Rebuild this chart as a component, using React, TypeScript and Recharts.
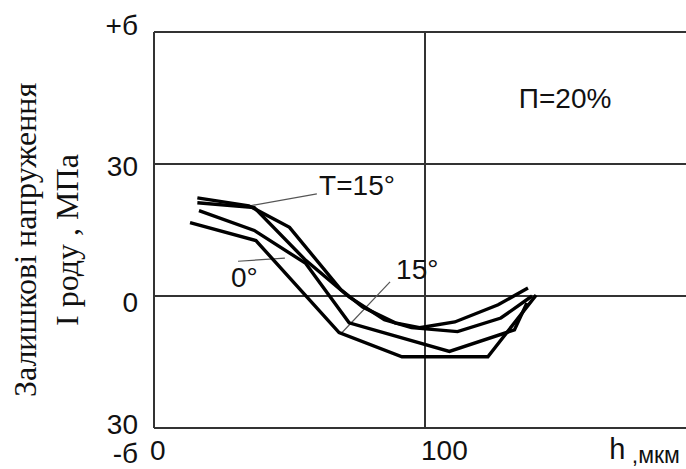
import { LineChart, Line, XAxis, YAxis, CartesianGrid, ReferenceLine, ReferenceDot } from "recharts"

// axis ticks
const depthTicks = [0, 100, 200]
const stressTicks = [-30, 0, 30, 60]
const stressTickText: Record<number, string[]> = { 60: ["+б"], 30: ["30"], 0: ["0"], [-30]: ["30", "-б"] }

// curves, h in мкм, stress in МПа
const hT15 = [16, 35, 50, 69, 77, 89, 98, 111, 127, 138]
const sT15 = [22.3, 20.5, 15.6, 1.4, -2.5, -6.1, -7.2, -5.9, -2.0, 1.8]

const hMid = [16, 37, 56, 72, 85, 95, 112, 128, 139.5]
const sMid = [21.2, 20.1, 8.1, -0.2, -5.4, -7.2, -8.1, -5.0, 0]

const h15 = [16.6, 37, 56, 72, 109, 133, 137.6]
const s15 = [19.4, 14.9, 7.4, -6.1, -12.6, -7.7, -1.6]

const h0 = [13.3, 37.6, 68.3, 91.5, 123.2, 141]
const s0 = [16.7, 12.6, -8.3, -13.8, -13.8, 0.2]

// annotations
const noteText = ["T=15°", "0°", "15°", "П=20%"]
const noteH = [61.3, 28.8, 89.7, 135]
const noteS = [22.8, 1.8, 3.6, 42.6]

const pointerFrom = [{ x: 60.1, y: 23.2 }, { x: 31, y: 7.9 }, { x: 87.1, y: 3.2 }]
const pointerTo = [{ x: 35.4, y: 20.5 }, { x: 48.3, y: 8.6 }, { x: 69.4, y: -8.3 }]

const toSeries = (h: number[], s: number[]) => h.map((v, i) => ({ h: v, s: s[i] }))
const curves = [toSeries(hT15, sT15), toSeries(hMid, sMid), toSeries(h15, s15), toSeries(h0, s0)]

const sans = "'Liberation Sans', Arial, sans-serif"
const serif = "'Liberation Serif', 'Times New Roman', serif"

const yShift: Record<number, number[]> = { 60: [3], 30: [12], 0: [16], [-30]: [6, 35] }

function StressTick({ x, y, payload }: any) {
  const v = payload.value
  const lines = stressTickText[v] || []
  return (
    <g>
      {lines.map((t, i) => (
        <text key={i} x={x} y={y + yShift[v][i]} textAnchor="end" fontFamily={sans} fontSize={28} fill="#111">
          {t}
        </text>
      ))}
    </g>
  )
}

function DepthTick({ x, y, payload }: any) {
  if (payload.value === 200) return null
  return (
    <text x={x - 4} y={y + 24} textAnchor="start" fontFamily={sans} fontSize={28} fill="#111">
      {payload.value}
    </text>
  )
}

function YTitle({ viewBox }: any) {
  const cy = viewBox.y + viewBox.height / 2 + 10
  return (
    <g>
      <text x={36} y={cy} transform={`rotate(-90, 36, ${cy})`} textAnchor="middle" fontFamily={serif} fontSize={32} fill="#111">
        Залишкові напруження
      </text>
      <text x={78} y={cy} transform={`rotate(-90, 78, ${cy})`} textAnchor="middle" fontFamily={serif} fontSize={32} fill="#111">
        І роду , МПа
      </text>
    </g>
  )
}

function XTitle({ viewBox }: any) {
  const x = viewBox.x + viewBox.width * 0.84
  return (
    <text x={x} y={459} fontFamily={sans} fill="#111">
      <tspan fontSize={29}>h</tspan>
      <tspan fontSize={23} dy={4}> ,мкм</tspan>
    </text>
  )
}

function Note({ viewBox, value }: any) {
  return (
    <text x={viewBox.x} y={viewBox.y} fontFamily={sans} fontSize={28} fill="#111">
      {value}
    </text>
  )
}

export default function App() {
  return (
    <div style={{ position: "absolute", left: 0, top: 0, width: 686, height: 469, overflow: "hidden", background: "#fff" }}>
      <LineChart width={720} height={469} margin={{ top: 32, right: 24, left: 0, bottom: 0 }}>
        <CartesianGrid stroke="#333" strokeWidth={2} />
        <XAxis
          type="number"
          dataKey="h"
          domain={[0, 200]}
          ticks={depthTicks}
          axisLine={false}
          tickLine={false}
          height={41}
          tick={<DepthTick />}
          label={{ content: <XTitle /> }}
        />
        <YAxis
          type="number"
          dataKey="s"
          domain={[-30, 60]}
          ticks={stressTicks}
          axisLine={false}
          tickLine={false}
          tickSize={0}
          tickMargin={16}
          width={154}
          tick={<StressTick />}
          label={{ content: <YTitle /> }}
        />
        {pointerFrom.map((p, i) => (
          <ReferenceLine key={"p" + i} segment={[p, pointerTo[i]]} stroke="#555" strokeWidth={1.2} ifOverflow="visible" />
        ))}
        {curves.map((d, i) => (
          <Line
            key={i}
            data={d}
            dataKey="s"
            type="linear"
            stroke="#000"
            strokeWidth={3.4}
            dot={false}
            isAnimationActive={false}
          />
        ))}
        {noteText.map((t, i) => (
          <ReferenceDot
            key={"n" + i}
            x={noteH[i]}
            y={noteS[i]}
            r={1}
            fill="none"
            stroke="none"
            label={{ value: t, content: <Note value={t} /> }}
          />
        ))}
      </LineChart>
    </div>
  )
}
